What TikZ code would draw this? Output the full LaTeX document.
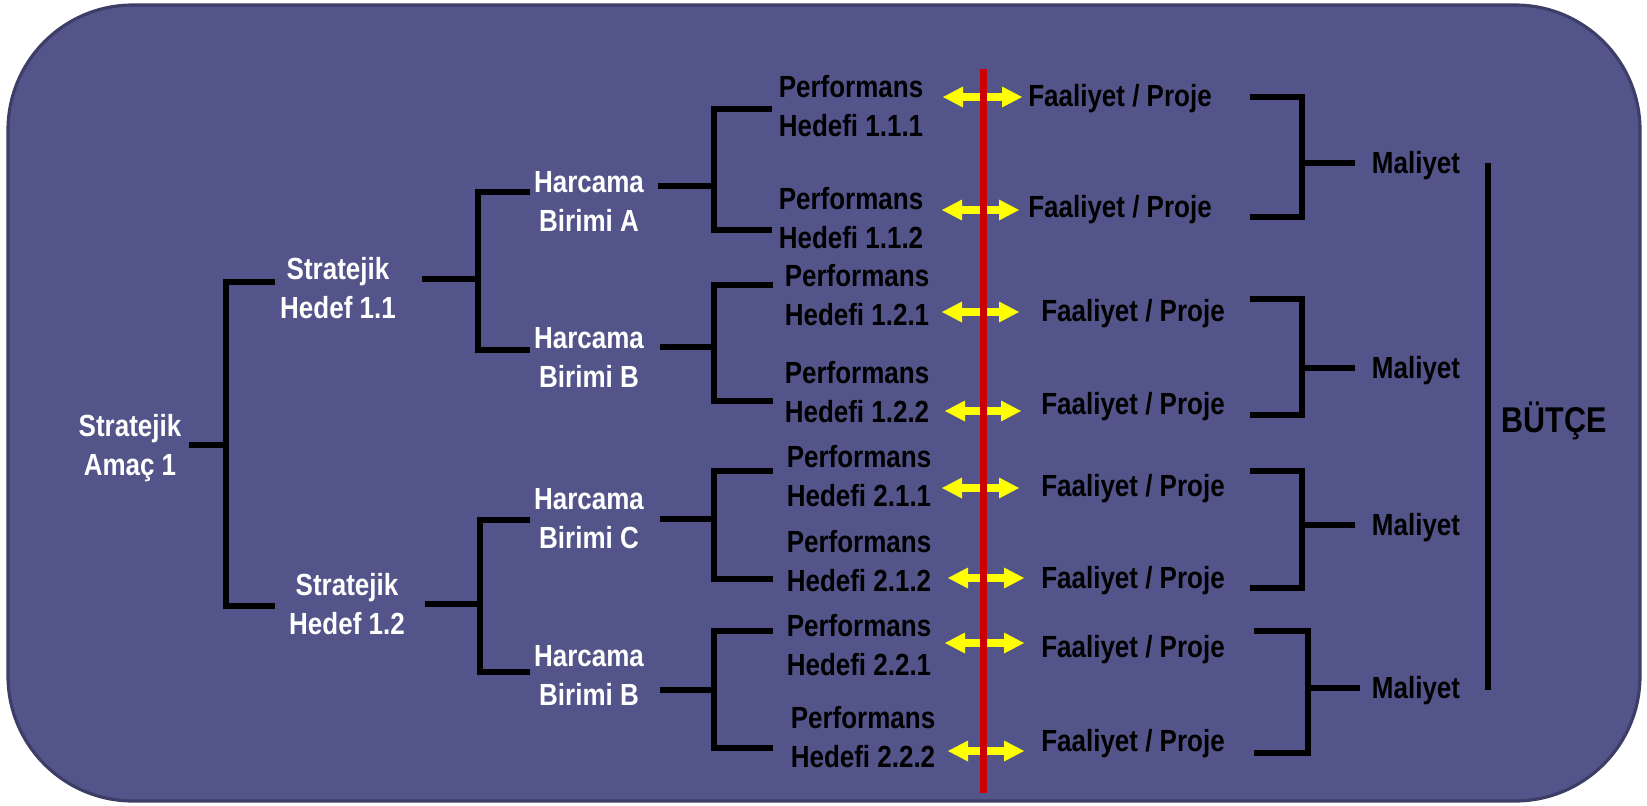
\documentclass[tikz,border=0pt]{standalone}
\usepackage{fontspec}
\setmainfont{Liberation Sans}[FakeStretch=0.85]
\usepackage{tikz}

\definecolor{panel}{HTML}{53548A}
\definecolor{panelrim}{HTML}{3D3E68}
\definecolor{redline}{HTML}{CC0000}
\definecolor{arrowyel}{HTML}{FFFF00}

\tikzset{
  lbl/.style={font=\fontsize{17.4pt}{22.2pt}\selectfont\bfseries, align=center, inner sep=0pt},
  wlbl/.style={lbl, text=white},
  brk/.style={line width=3.7pt, black},
  link/.style={fill=arrowyel},
}

\begin{document}
\begin{tikzpicture}[x=0.02cm, y=-0.02cm]
\useasboundingbox (0,0) rectangle (1647,805);

% Panel
\draw[panelrim, line width=1.8pt, fill=panel, rounded corners=2.5cm] (8,5) rectangle (1640,801);

% Left side (white)
\node[wlbl] (amac) at (130,448) {Stratejik\\Amaç 1};
\node[wlbl] (sh1) at (338,288) {Stratejik\\Hedef 1.1};
\node[wlbl] (sh2) at (347,604) {Stratejik\\Hedef 1.2};
\node[wlbl] (ha) at (589,201) {Harcama\\Birimi A};
\node[wlbl] (hb) at (589,357) {Harcama\\Birimi B};
\node[wlbl] (hc) at (589,519) {Harcama\\Birimi C};
\node[wlbl] (hb2) at (589,675) {Harcama\\Birimi B};

% Performance goals
\foreach \id/\n/\x/\y in {111/1.1.1/851/106, 112/1.1.2/851/218, 121/1.2.1/857/295, 122/1.2.2/857/392,
                          211/2.1.1/859/476, 212/2.1.2/859/561, 221/2.2.1/859/645, 222/2.2.2/863/737}{
  \node[lbl] (p\id) at (\x,\y) {Performans\\Hedefi \n};
}

% Activities
\foreach \i/\x/\y in {1/1120/99, 2/1120/210, 3/1133/314, 4/1133/407,
                      5/1133/489, 6/1133/581, 7/1133/650, 8/1133/744}{
  \node[lbl] (f\i) at (\x,\y) {Faaliyet / Proje};
}

% Costs and budget
\foreach \i/\y in {1/166, 2/371, 3/528, 4/691}{
  \node[lbl] (m\i) at (1416,\y) {Maliyet};
}
\node[lbl, font=\fontsize{20.4pt}{24pt}\selectfont\bfseries] (butce) at (1554,421) {BÜTÇE};

% Brackets: stub end / vertical / arm end / stub y / top arm y / bottom arm y
\foreach \xs/\xv/\xe/\ys/\yt/\yb in {189/226/275/445/282/606,
    422/478/530/279/192/350, 425/480/530/604/520/672,
    658/714/772/186/109/230, 660/714/773/347/285/401,
    660/714/773/519/471/579, 660/714/773/690/631/748,
    1355/1302/1250/163/97/217, 1355/1302/1250/368/299/415,
    1355/1302/1250/525/471/588, 1360/1308/1254/688/631/753}{
  \draw[brk] (\xs,\ys) -- (\xv,\ys);
  \draw[brk] (\xe,\yt) -- (\xv,\yt) -- (\xv,\yb) -- (\xe,\yb);
}
\draw[brk] (1488,163) -- (1488,690);

% Double arrows across the line
\foreach \y/\xa/\xb in {97/943/1022, 210/942/1019, 312/942/1019, 411/945/1021,
                        488/942/1019, 578/948/1024, 643/945/1024, 751/948/1024}{
  \fill[link] (\xa,\y) -- ({\xa+20},{\y-10.5}) -- ({\xa+20},{\y-3.8}) -- ({\xb-20},{\y-3.8})
    -- ({\xb-20},{\y-10.5}) -- (\xb,\y) -- ({\xb-20},{\y+10.5}) -- ({\xb-20},{\y+3.8})
    -- ({\xa+20},{\y+3.8}) -- ({\xa+20},{\y+10.5}) -- cycle;
}
\draw[redline, line width=4.3pt] (983.5,69) -- (983.5,793);
\end{tikzpicture}
\end{document}
